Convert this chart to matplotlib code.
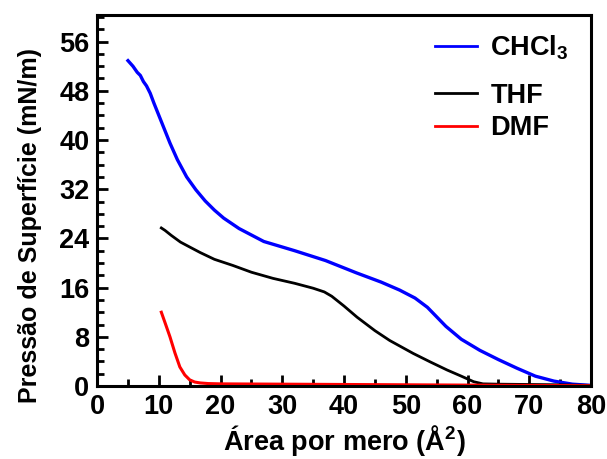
import matplotlib.pyplot as plt
from matplotlib.ticker import MultipleLocator

plt.rcParams['font.family'] = ['Liberation Sans', 'DejaVu Sans']
plt.rcParams['font.weight'] = 'bold'
plt.rcParams['mathtext.fontset'] = 'custom'
plt.rcParams['mathtext.rm'] = 'Liberation Sans:bold'
plt.rcParams['mathtext.bf'] = 'Liberation Sans:bold'
plt.rcParams['mathtext.default'] = 'bf'

# isotermas pi-A (area por mero x pressao de superficie)
area_chcl3 = [5.0, 5.8, 6.5, 7.0, 7.5, 8.0, 8.6, 9.2, 10.0, 10.8, 11.8, 13.0, 14.5,
              16.0, 17.5, 19.0, 20.5, 23.0, 27.0, 32.0, 37.0, 42.0, 46.0, 49.0,
              51.5, 53.5, 56.5, 59.0, 62.0, 65.0, 68.0, 71.0, 74.0, 77.0, 80.0]
pres_chcl3 = [52.9, 52.0, 51.0, 50.5, 49.5, 48.8, 47.6, 46.0, 44.0, 42.0, 39.5, 36.8, 34.0,
              31.9, 30.1, 28.6, 27.3, 25.6, 23.5, 22.0, 20.4, 18.4, 16.9, 15.6,
              14.3, 12.8, 9.7, 7.6, 5.8, 4.3, 2.9, 1.6, 0.8, 0.3, 0.1]

area_thf = [10.4, 11.0, 12.0, 13.5, 15.0, 16.7, 19.0, 22.0, 25.0, 28.5, 32.0, 35.0,
            36.8, 38.0, 40.0, 42.1, 45.0, 47.4, 51.2, 54.0, 56.7, 59.0, 61.0,
            62.5, 65.0, 70.0, 75.0, 80.0]
pres_thf = [25.7, 25.3, 24.5, 23.4, 22.6, 21.7, 20.6, 19.6, 18.5, 17.5, 16.7, 15.9,
            15.3, 14.6, 13.0, 11.2, 9.0, 7.4, 5.3, 3.9, 2.6, 1.6, 0.7,
            0.35, 0.3, 0.25, 0.2, 0.1]

area_dmf = [10.4, 11.0, 11.8, 12.6, 13.4, 14.2, 15.0, 15.8, 16.7, 18.0, 20.0, 30.0,
            40.0, 50.0, 60.0, 70.0, 80.0]
pres_dmf = [12.0, 10.3, 8.0, 5.4, 3.1, 1.8, 1.0, 0.65, 0.5, 0.4, 0.35, 0.3,
            0.25, 0.2, 0.15, 0.1, 0.05]

fig = plt.figure(figsize=(6.07, 4.59), dpi=100)
ax = fig.add_axes([0.16, 0.159, 0.8136, 0.808])

l1, = ax.plot(area_chcl3, pres_chcl3, color='#0000ff', lw=2.4, label='CHCl$_3$')
l2, = ax.plot(area_thf, pres_thf, color='black', lw=2.0, label='THF')
l3, = ax.plot(area_dmf, pres_dmf, color='#ff0000', lw=2.2, label='DMF')

ax.set_xlim(0, 80)
ax.set_ylim(0, 60.3)
ax.xaxis.set_major_locator(MultipleLocator(10))
ax.xaxis.set_minor_locator(MultipleLocator(5))
ax.yaxis.set_major_locator(MultipleLocator(8))
ax.yaxis.set_minor_locator(MultipleLocator(2))
ax.tick_params(which='both', direction='in', labelsize=19.5, width=2)
ax.tick_params(axis='x', pad=6)
ax.tick_params(axis='y', pad=5.5)
ax.tick_params(which='major', length=8)
ax.tick_params(which='minor', length=5)
for s in ax.spines.values():
    s.set_linewidth(2.2)

ax.set_xlabel('Área por mero (Å$^2$)', fontsize=19.5, fontweight='bold', labelpad=2)
ax.set_ylabel('Pressão de Superfície (mN/m)', fontsize=18, fontweight='bold')
ax.yaxis.set_label_coords(-0.111, 0.434)

# legenda em duas partes: o subscrito do CHCl3 desce abaixo da linha
leg_kw = dict(frameon=False, fontsize=19.5, handlelength=1.55, handletextpad=0.5,
              borderpad=0, borderaxespad=0, loc='upper left')
leg1 = ax.legend(handles=[l1], bbox_to_anchor=(0.684, 0.950), **leg_kw)
ax.add_artist(leg1)
leg2 = ax.legend(handles=[l2, l3], bbox_to_anchor=(0.684, 0.818), labelspacing=0.25, **leg_kw)
for leg in (leg1, leg2):
    for h in leg.get_lines():
        h.set_linewidth(2.0)

fig.savefig('out.png', dpi=100)
